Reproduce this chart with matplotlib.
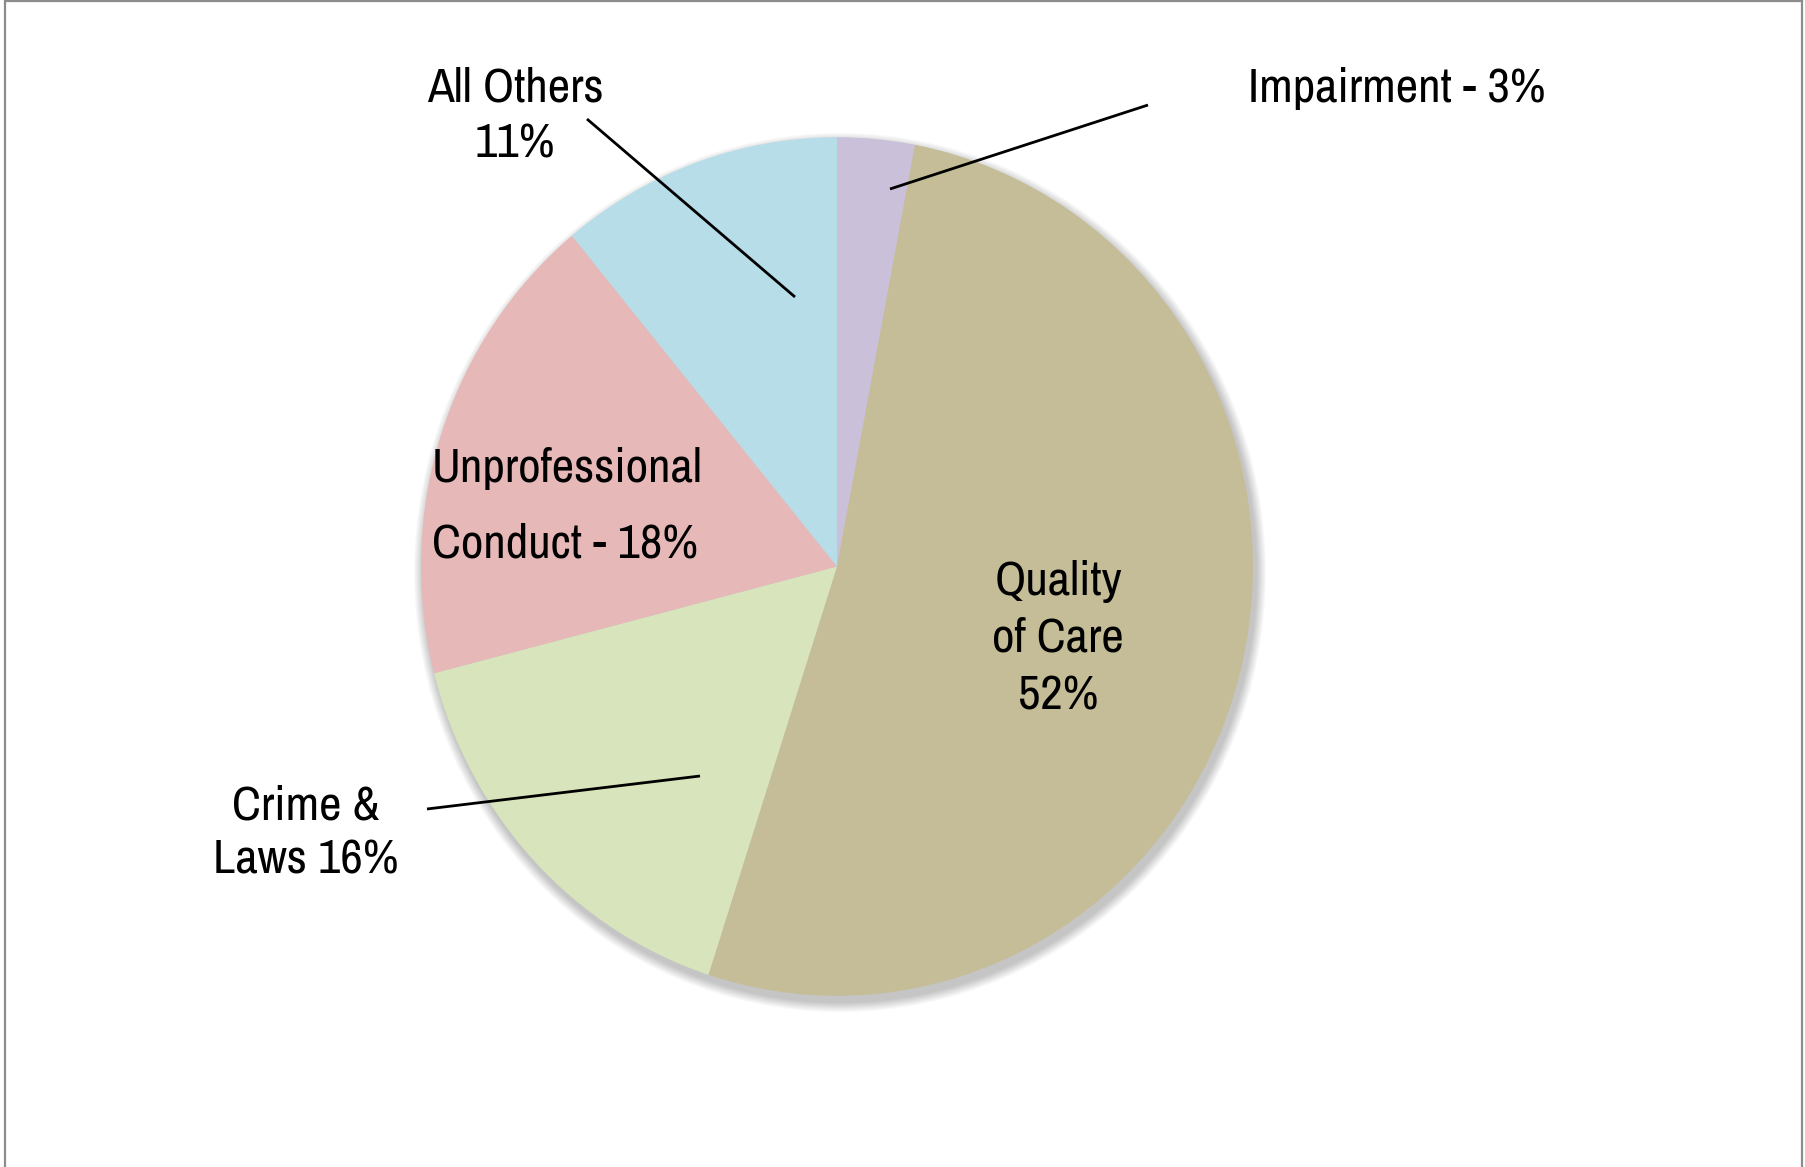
import matplotlib

matplotlib.use("Agg")
import matplotlib.pyplot as plt
from matplotlib import font_manager as fm
from matplotlib.patches import Ellipse, Rectangle

W, H = 1806, 1167
DPI = 100
K = 1.032  # pie is a touch taller than wide in the reference

labels = ["Impairment", "Quality of Care", "Crime & Laws", "Unprofessional Conduct", "All Others"]
values = [3, 52, 16, 18, 11]
colors = ["#CBC0DA", "#C4BD97", "#D8E4BC", "#E6B9B8", "#B7DDE8"]

# label text, anchor (px), alignment, line spacing (px)
label_texts = ["Impairment - 3%", "Quality\nof Care\n52%", "Crime &\nLaws 16%",
               "Unprofessional\nConduct - 18%", "All Others\n11%"]
label_pos = [(1248, 102, "left"), (1058, 709, "center"), (306, 873, "center"),
             (432, 558, "left"), (515, 158, "center")]
line_gap = [0, 57, 54, 76, 56]

# leader lines (px, from slice to label)
leaders = {
    "Impairment": ((890, 189), (1148, 105)),
    "Crime & Laws": ((700, 776), (427, 809)),
    "All Others": ((795, 297), (587, 119)),
}

CX, CY, R = 837, 566.5, 416

# narrow sans, like the Arial Narrow of the original
installed = {f.name for f in fm.fontManager.ttflist}
candidates = ["Liberation Sans Narrow", "Arial Narrow", "Archivo Narrow",
              "Roboto Condensed", "PT Sans Narrow", "Pragati Narrow", "Liberation Sans"]
font = next(c for c in candidates + ["DejaVu Sans"] if c in installed or c == "DejaVu Sans")


def P(x, y):
    """pixel (top-left origin) -> data coords"""
    return x, (H - y) / K


fig = plt.figure(figsize=(W / DPI, H / DPI), dpi=DPI)
fig.patch.set_facecolor("white")
ax = fig.add_axes([0, 0, 1, 1])

# soft drop shadow
sx, sy = P(CX + 3, CY + 6)
for i in range(10):
    ax.add_patch(Ellipse((sx, sy), 2 * (R + 10 - i), 2 * (R + 10 - i),
                         facecolor="#000000", alpha=0.025, lw=0, zorder=1))

cx, cy = P(CX, CY)
wedges, _ = ax.pie(values, colors=colors, startangle=90, counterclock=False,
                   center=(cx, cy), radius=R, wedgeprops=dict(linewidth=0))
for w in wedges:
    w.set_zorder(2)

ax.set_aspect("auto")
ax.set_xlim(0, W)
ax.set_ylim(0, H / K)
ax.axis("off")

# size the text so "Impairment - 3%" spans ~297 px as in the reference
probe = fig.text(0, 0, label_texts[0], fontsize=33.5, family=font)
renderer = fig.canvas.get_renderer()
pw = probe.get_window_extent(renderer).width
probe.remove()
fsize = max(28, min(36, 33.5 * 297 / pw))

for txt, (x, y, ha), gap in zip(label_texts, label_pos, line_gap):
    lines = txt.split("\n")
    n = len(lines)
    for j, ln in enumerate(lines):
        yy = y - (n - 1 - j) * gap
        ax.text(*P(x, yy), ln, ha=ha, va="baseline", fontsize=fsize,
                family=font, color="black", zorder=5)

for name, (a, b) in leaders.items():
    xa, ya = P(*a)
    xb, yb = P(*b)
    ax.plot([xa, xb], [ya, yb], color="black", lw=2.0, zorder=4, solid_capstyle="butt")

# chart-area border (grey, open at the bottom)
fig.patches.append(Rectangle((5 / W, -0.05), (1802 - 5) / W, 1.05 - 1.5 / H,
                             transform=fig.transFigure, fill=False,
                             edgecolor="#8c8c8c", lw=1.6))

fig.savefig("out.png", dpi=DPI, facecolor="white")
